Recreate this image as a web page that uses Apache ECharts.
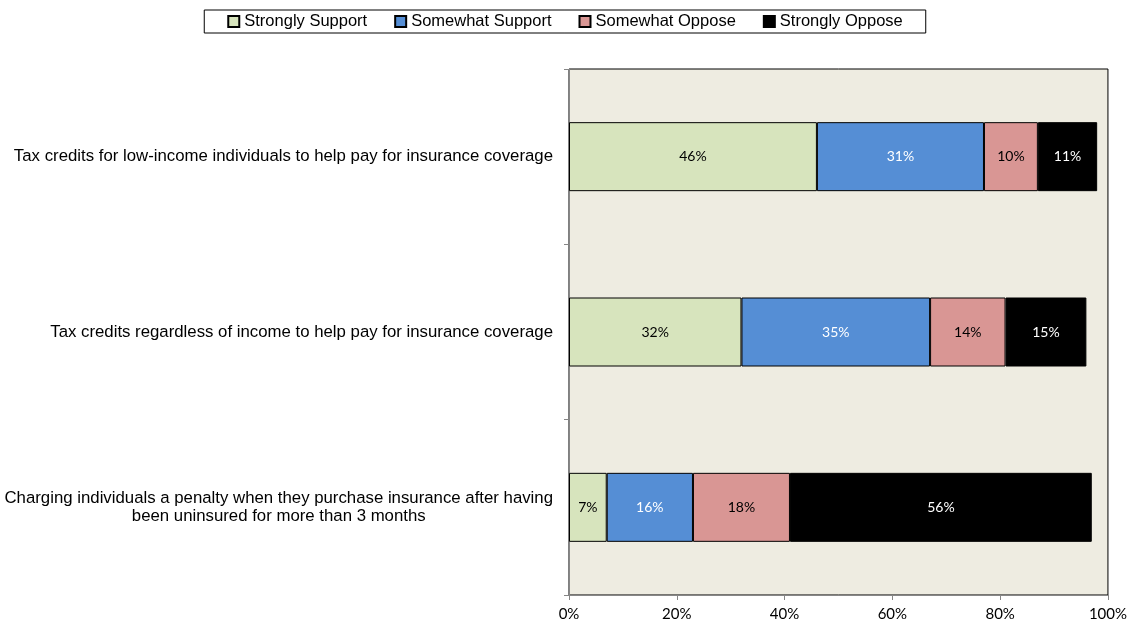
<!DOCTYPE html>
<html>
<head>
<meta charset="utf-8">
<script src="https://cdn.jsdelivr.net/npm/echarts@6/dist/echarts.min.js"></script>
<style>
  html, body { margin: 0; padding: 0; background: #fff; }
  #chart { width: 1130px; height: 625px; }
</style>
</head>
<body>
<div id="chart"></div>
<script>
// categories bottom -> top (ECharts category axis starts at the bottom)
const categories = [
  'Charging individuals a penalty when they purchase insurance after having\nbeen uninsured for more than 3 months',
  'Tax credits regardless of income to help pay for insurance coverage',
  'Tax credits for low-income individuals to help pay for insurance coverage'
];
const stronglySupport = [7, 32, 46];
const somewhatSupport = [16, 35, 31];
const somewhatOppose = [18, 14, 10];
const stronglyOppose = [56, 15, 11];
const xTicks = [0, 20, 40, 60, 80, 100];

const chart = echarts.init(document.getElementById('chart'));

function barSeries(name, data, color, labelColor) {
  return {
    name: name,
    type: 'bar',
    stack: 'total',
    barWidth: 69,
    data: data,
    itemStyle: { color: color, borderColor: '#000', borderWidth: 1 },
    label: {
      show: true,
      position: 'inside',
      formatter: '{c}%',
      color: labelColor,
      fontFamily: 'Lato',
      fontSize: 14
    }
  };
}

chart.setOption({
  animation: false,
  textStyle: { fontFamily: 'Liberation Sans' },
  legend: {
    top: 10,
    left: 'center',
    padding: [3, 23],
    itemGap: 27,
    itemWidth: 11,
    itemHeight: 11,
    icon: 'rect',
    borderColor: '#000',
    borderWidth: 1,
    textStyle: { fontFamily: 'Liberation Sans', fontSize: 16.5, color: '#000' }
  },
  grid: {
    left: 569,
    right: 21,
    top: 69,
    bottom: 30,
    show: true,
    backgroundColor: '#EEECE1',
    borderColor: '#000',
    borderWidth: 1
  },
  xAxis: {
    type: 'value',
    min: xTicks[0],
    max: xTicks[xTicks.length - 1],
    interval: 20,
    axisLine: { show: true, lineStyle: { color: '#868686' } },
    axisTick: { show: true, length: 5, lineStyle: { color: '#868686' } },
    splitLine: { show: false },
    axisLabel: {
      formatter: '{value}%',
      fontFamily: 'Lato',
      fontSize: 15,
      color: '#000',
      margin: 12
    }
  },
  yAxis: {
    type: 'category',
    data: categories,
    axisLine: { show: true, lineStyle: { color: '#868686' } },
    axisTick: { show: true, length: 5, lineStyle: { color: '#868686' } },
    axisLabel: {
      margin: 16,
      align: 'right',
      fontFamily: 'Liberation Sans',
      fontSize: 16.8,
      color: '#000',
      lineHeight: 18,
      formatter: function (v) {
        return v.split('\n').map(function (s) { return '{c|' + s + '}'; }).join('\n');
      },
      rich: {
        c: { align: 'center', fontFamily: 'Liberation Sans', fontSize: 16.8, lineHeight: 18, color: '#000' }
      }
    }
  },
  series: [
    barSeries('Strongly Support', stronglySupport, '#D7E4BD', '#000'),
    barSeries('Somewhat Support', somewhatSupport, '#558ED5', '#fff'),
    barSeries('Somewhat Oppose', somewhatOppose, '#D99694', '#000'),
    barSeries('Strongly Oppose', stronglyOppose, '#000000', '#fff')
  ]
});
</script>
</body>
</html>
